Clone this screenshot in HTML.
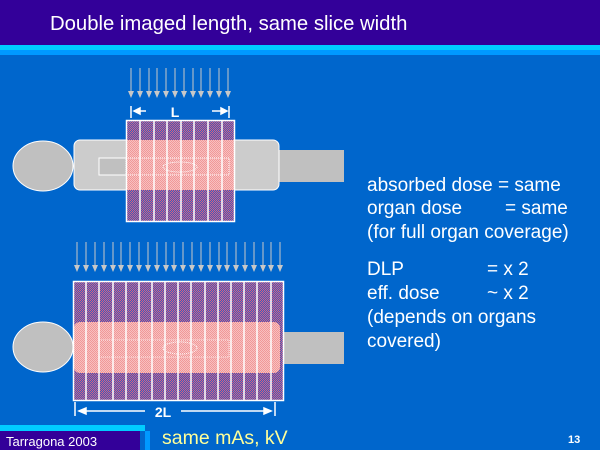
<!DOCTYPE html>
<html><head><meta charset="utf-8"><style>
body{margin:0;width:600px;height:450px;overflow:hidden;background:#0066cc;font-family:"Liberation Sans",sans-serif;}
</style></head><body>
<svg width="600" height="450" xmlns="http://www.w3.org/2000/svg" style="position:absolute;left:0;top:0">
<defs>
<pattern id="chk" width="2" height="2" patternUnits="userSpaceOnUse">
<rect width="2" height="2" fill="#3a5cc0"/><rect width="1" height="1" fill="#d86080"/><rect x="1" y="1" width="1" height="1" fill="#d86080"/>
</pattern>
<pattern id="pk" width="2" height="2" patternUnits="userSpaceOnUse">
<rect width="2" height="2" fill="#f8c0c0"/><rect width="1" height="1" fill="#f09898"/><rect x="1" y="1" width="1" height="1" fill="#f09898"/>
</pattern>
<marker id="ah" markerWidth="7" markerHeight="7" refX="6" refY="3" orient="auto" markerUnits="userSpaceOnUse"><path d="M0,0 L7,3 L0,6Z" fill="#c8c8c8"/></marker>
</defs>
<rect x="0" y="0" width="600" height="45" fill="#330099"/>
<rect x="0" y="45" width="600" height="5" fill="#00ccff"/>
<rect x="0" y="50" width="600" height="5" fill="#0099ff"/>
<text x="50" y="30" fill="#fff" font-size="20.3" font-family="Liberation Sans, sans-serif">Double imaged length, same slice width</text>

<!-- top figure -->
<rect x="279" y="150" width="65" height="32" fill="#c0c0c0"/>
<rect x="74" y="140" width="205" height="50" rx="6" fill="#cccccc" stroke="#fff" stroke-width="1"/>
<ellipse cx="43" cy="166" rx="30" ry="25" fill="#c0c0c0" stroke="#fff" stroke-width="1"/>
<rect x="99" y="158" width="130" height="17" fill="#c0c0c0" stroke="#fff" stroke-width="1"/>
<rect x="126" y="120" width="109" height="102" fill="url(#chk)"/>
<rect x="126" y="140" width="109" height="50" fill="url(#pk)"/>
<rect x="126" y="158" width="103" height="17" fill="none" stroke="#fff" stroke-dasharray="1,1"/>
<ellipse cx="180" cy="167" rx="17" ry="5" fill="none" stroke="#fff" stroke-dasharray="1,1"/>
<g stroke="#fff" stroke-width="1.5" fill="none">
<rect x="126.5" y="120.5" width="108" height="101"/>
<line x1="140" y1="120" x2="140" y2="222"/><line x1="154" y1="120" x2="154" y2="222"/><line x1="167" y1="120" x2="167" y2="222"/><line x1="181" y1="120" x2="181" y2="222"/><line x1="194" y1="120" x2="194" y2="222"/><line x1="208" y1="120" x2="208" y2="222"/><line x1="222" y1="120" x2="222" y2="222"/>
</g>
<g stroke="#c8c8c8" stroke-width="1" marker-end="url(#ah)">
<line x1="131" y1="68" x2="131" y2="97"/><line x1="140" y1="68" x2="140" y2="97"/><line x1="149" y1="68" x2="149" y2="97"/><line x1="157" y1="68" x2="157" y2="97"/><line x1="166" y1="68" x2="166" y2="97"/><line x1="175" y1="68" x2="175" y2="97"/><line x1="184" y1="68" x2="184" y2="97"/><line x1="193" y1="68" x2="193" y2="97"/><line x1="201" y1="68" x2="201" y2="97"/><line x1="210" y1="68" x2="210" y2="97"/><line x1="219" y1="68" x2="219" y2="97"/><line x1="228" y1="68" x2="228" y2="97"/>
</g>
<g stroke="#fff" stroke-width="1.5" fill="#fff">
<line x1="131" y1="106" x2="131" y2="118"/><line x1="229" y1="106" x2="229" y2="118"/>
<line x1="134" y1="111" x2="146" y2="111"/><line x1="212" y1="111" x2="225" y2="111"/>
<path d="M134,111 L140,108 L140,114Z"/><path d="M227,111 L221,108 L221,114Z"/>
</g>
<text x="175" y="117" fill="#fff" font-size="14" font-weight="bold" text-anchor="middle">L</text>

<!-- bottom figure -->
<rect x="283" y="332" width="61" height="32" fill="#c0c0c0"/>
<ellipse cx="43" cy="347" rx="30" ry="25" fill="#c0c0c0" stroke="#fff" stroke-width="1"/>
<rect x="73" y="281" width="211" height="120" fill="url(#chk)"/>
<rect x="74" y="322" width="206" height="51" rx="6" fill="url(#pk)"/>
<rect x="99" y="340" width="130" height="17" fill="none" stroke="#fff" stroke-dasharray="1,1" opacity="0.7"/>
<ellipse cx="180" cy="348" rx="17" ry="6" fill="none" stroke="#fff" stroke-dasharray="1,1"/>
<g stroke="#fff" stroke-width="1.5" fill="none">
<rect x="73.5" y="281.5" width="210" height="119"/>
<line x1="86" y1="281" x2="86" y2="401"/><line x1="99" y1="281" x2="99" y2="401"/><line x1="113" y1="281" x2="113" y2="401"/><line x1="126" y1="281" x2="126" y2="401"/><line x1="139" y1="281" x2="139" y2="401"/><line x1="152" y1="281" x2="152" y2="401"/><line x1="165" y1="281" x2="165" y2="401"/><line x1="178" y1="281" x2="178" y2="401"/><line x1="191" y1="281" x2="191" y2="401"/><line x1="205" y1="281" x2="205" y2="401"/><line x1="218" y1="281" x2="218" y2="401"/><line x1="231" y1="281" x2="231" y2="401"/><line x1="244" y1="281" x2="244" y2="401"/><line x1="257" y1="281" x2="257" y2="401"/><line x1="271" y1="281" x2="271" y2="401"/>
</g>
<g stroke="#c8c8c8" stroke-width="1" marker-end="url(#ah)">
<line x1="77" y1="242" x2="77" y2="271"/><line x1="86" y1="242" x2="86" y2="271"/><line x1="95" y1="242" x2="95" y2="271"/><line x1="104" y1="242" x2="104" y2="271"/><line x1="113" y1="242" x2="113" y2="271"/><line x1="121" y1="242" x2="121" y2="271"/><line x1="130" y1="242" x2="130" y2="271"/><line x1="139" y1="242" x2="139" y2="271"/><line x1="148" y1="242" x2="148" y2="271"/><line x1="157" y1="242" x2="157" y2="271"/><line x1="166" y1="242" x2="166" y2="271"/><line x1="174" y1="242" x2="174" y2="271"/><line x1="183" y1="242" x2="183" y2="271"/><line x1="192" y1="242" x2="192" y2="271"/><line x1="201" y1="242" x2="201" y2="271"/><line x1="210" y1="242" x2="210" y2="271"/><line x1="219" y1="242" x2="219" y2="271"/><line x1="227" y1="242" x2="227" y2="271"/><line x1="236" y1="242" x2="236" y2="271"/><line x1="245" y1="242" x2="245" y2="271"/><line x1="254" y1="242" x2="254" y2="271"/><line x1="263" y1="242" x2="263" y2="271"/><line x1="271" y1="242" x2="271" y2="271"/><line x1="280" y1="242" x2="280" y2="271"/>
</g>
<g stroke="#fff" stroke-width="1.5" fill="#fff">
<line x1="75" y1="402" x2="75" y2="416"/><line x1="275" y1="402" x2="275" y2="416"/>
<line x1="79" y1="411" x2="145" y2="411"/><line x1="181" y1="411" x2="270" y2="411"/>
<path d="M79,411 L86,408 L86,414Z"/><path d="M271,411 L264,408 L264,414Z"/>
</g>
<text x="163" y="417" fill="#fff" font-size="14" font-weight="bold" text-anchor="middle">2L</text>

<!-- right text -->
<g fill="#fff" font-size="19">
<text x="367" y="191">absorbed dose = same</text>
<text x="367" y="214">organ dose</text><text x="505" y="214">= same</text>
<text x="367" y="238">(for full organ coverage)</text>
<text x="367" y="275">DLP</text><text x="487" y="275">= x 2</text>
<text x="367" y="299">eff. dose</text><text x="487" y="299">~ x 2</text>
<text x="367" y="323">(depends on organs</text>
<text x="367" y="347">covered)</text>
</g>

<!-- footer -->
<rect x="0" y="425" width="145" height="6" fill="#00ccff"/>
<rect x="145" y="431" width="5" height="19" fill="#0099ff"/>
<rect x="0" y="431" width="140" height="19" fill="#330099"/>
<text x="6" y="446" fill="#fff" font-size="13">Tarragona 2003</text>
<text x="162" y="444" fill="#ffff99" font-size="19.5">same mAs, kV</text>
<text x="568" y="443" fill="#fff" font-size="11" font-weight="bold">13</text>
</svg>
</body></html>
